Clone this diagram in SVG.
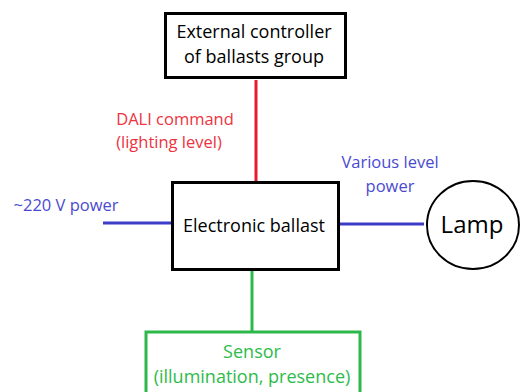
<svg xmlns="http://www.w3.org/2000/svg" width="520" height="392" viewBox="0 0 520 392">
<style>
text{font-family:"Open Sans","Noto Sans",sans-serif;font-size:18px;text-anchor:middle}
.blk{fill:#000}
.red{fill:#ee3340;font-size:16.5px}
.blue{fill:#4a4ad0;font-size:16.5px}
.green{fill:#2dbb4a}
.box{fill:#fff;stroke:#000;stroke-width:3}
</style>
<rect width="520" height="392" fill="#fff"/>
<g id="connectors" stroke-width="3" fill="none">
<line x1="256" y1="80" x2="256" y2="182" stroke="#e8192c"/>
<line x1="103" y1="223" x2="171" y2="223" stroke="#3c3cc8"/>
<line x1="340" y1="224" x2="424" y2="224" stroke="#3c3cc8"/>
<line x1="252" y1="271" x2="252" y2="331" stroke="#2cb84a"/>
</g>
<g id="controller">
<rect class="box" x="165.5" y="13.5" width="180" height="64"/>
<text class="blk" x="254" y="38">External controller</text>
<text class="blk" x="254" y="63">of ballasts group</text>
</g>
<g id="ballast">
<rect class="box" x="172.5" y="182.5" width="166" height="87"/>
<text class="blk" x="254" y="232">Electronic ballast</text>
</g>
<g id="lamp">
<ellipse cx="473" cy="225" rx="46" ry="44" fill="#fff" stroke="#000" stroke-width="2"/>
<text class="blk" x="472" y="233" style="font-size:24px">Lamp</text>
</g>
<g id="sensor">
<rect x="146" y="332" width="214" height="70" fill="#fff" stroke="#2cb84a" stroke-width="3"/>
<text class="green" x="252" y="358">Sensor</text>
<text class="green" x="252" y="383">(illumination, presence)</text>
</g>
<g id="labels">
<text class="red" x="175" y="125">DALI command</text>
<text class="red" x="169" y="148">(lighting level)</text>
<text class="blue" x="66" y="211">~220 V power</text>
<text class="blue" x="390" y="168">Various level</text>
<text class="blue" x="390" y="192">power</text>
</g>
</svg>
